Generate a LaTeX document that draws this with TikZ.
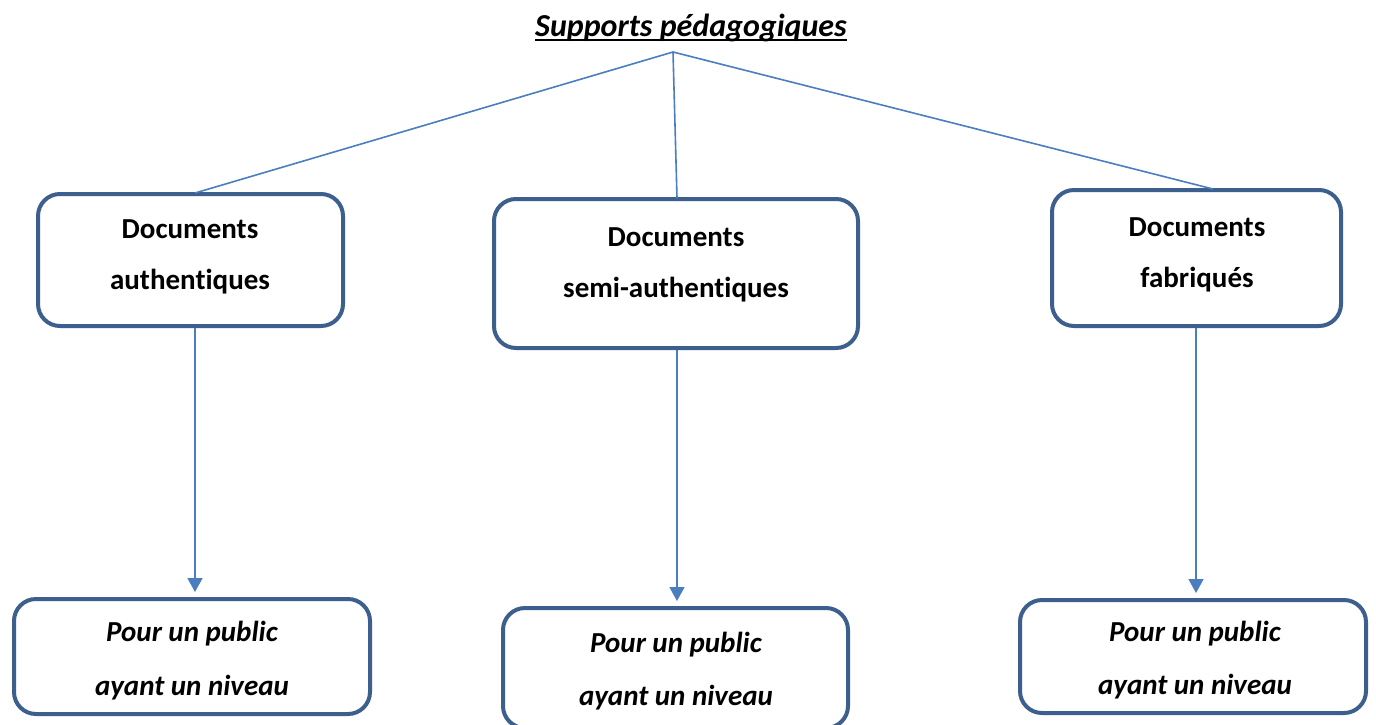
\documentclass[tikz,border=0pt]{standalone}
\usepackage{fontspec}
\setmainfont[Ligatures={NoCommon}]{Carlito}
\usetikzlibrary{arrows.meta}
\definecolor{boxblue}{HTML}{3C5F8E}
\definecolor{lineblue}{HTML}{4A7EBF}
\tikzset{
  box/.style={draw=boxblue, line width=4pt, rounded corners=22pt, fill=white, inner sep=0pt},
  lbl/.style={font=\fontsize{29}{35}\selectfont\bfseries, inner sep=0pt, anchor=center},
  ilbl/.style={font=\fontsize{29}{35}\selectfont\bfseries\itshape, inner sep=0pt, anchor=center},
  link/.style={draw=lineblue, line width=1.6pt},
  arrow/.style={draw=lineblue, line width=1.6pt, -{Triangle[length=14pt,width=15pt]}, shorten >=5pt},
}
\begin{document}
\begin{tikzpicture}[x=1pt,y=-1pt]
\useasboundingbox[fill=white] (0,0) rectangle (1376,724);
% title
\node[font=\fontsize{32}{38}\selectfont\bfseries\itshape, inner sep=0pt, anchor=base] (title) at (691,36) {Supports pédagogiques};
\draw[line width=2.4pt] ([yshift=-4pt]title.base west) -- ([yshift=-4pt]title.base east);
\coordinate (apex) at (673,52);
% upper boxes
\node[box, minimum width=305pt, minimum height=132pt] (b1) at (190.5,260) {};
\node[box, minimum width=364pt, minimum height=149pt] (b2) at (676,273.5) {};
\node[box, minimum width=289pt, minimum height=136pt] (b3) at (1196.5,258) {};
\node[lbl] (b1a) at (190,229) {Documents};
\node[lbl] (b1b) at (190,282) {authentiques};
\node[lbl] (b2a) at (676,237) {Documents};
\node[lbl] (b2b) at (676,290) {semi-authentiques};
\node[lbl] (b3a) at (1197,227) {Documents};
\node[lbl] (b3b) at (1197,280) {fabriqués};
% lower boxes
\node[box, minimum width=356pt, minimum height=115pt] (p1) at (192,656.5) {};
\node[box, minimum width=345pt, minimum height=120pt] (p2) at (675.5,668) {};
\node[box, minimum width=346pt, minimum height=113pt] (p3) at (1193,656.5) {};
\node[ilbl] (p1a) at (192,634) {Pour un public};
\node[ilbl] (p1b) at (192,688) {ayant un niveau};
\node[ilbl] (p2a) at (676,645) {Pour un public};
\node[ilbl] (p2b) at (676,698) {ayant un niveau};
\node[ilbl] (p3a) at (1195,634) {Pour un public};
\node[ilbl] (p3b) at (1195,687) {ayant un niveau};
% connectors
\draw[link] (apex) -- ([xshift=4.5pt,yshift=-1pt]b1.north);
\draw[link] (apex) -- ([xshift=1pt,yshift=-1pt]b2.north);
\draw[link] (apex) -- ([xshift=16.5pt,yshift=-1pt]b3.north);
\draw[arrow] ([xshift=4.5pt]b1.south) -- ([xshift=3pt]p1.north);
\draw[arrow] ([xshift=1pt]b2.south) -- ([xshift=1.5pt]p2.north);
\draw[arrow] ([xshift=-0.5pt]b3.south) -- ([xshift=3pt]p3.north);
\end{tikzpicture}
\end{document}
